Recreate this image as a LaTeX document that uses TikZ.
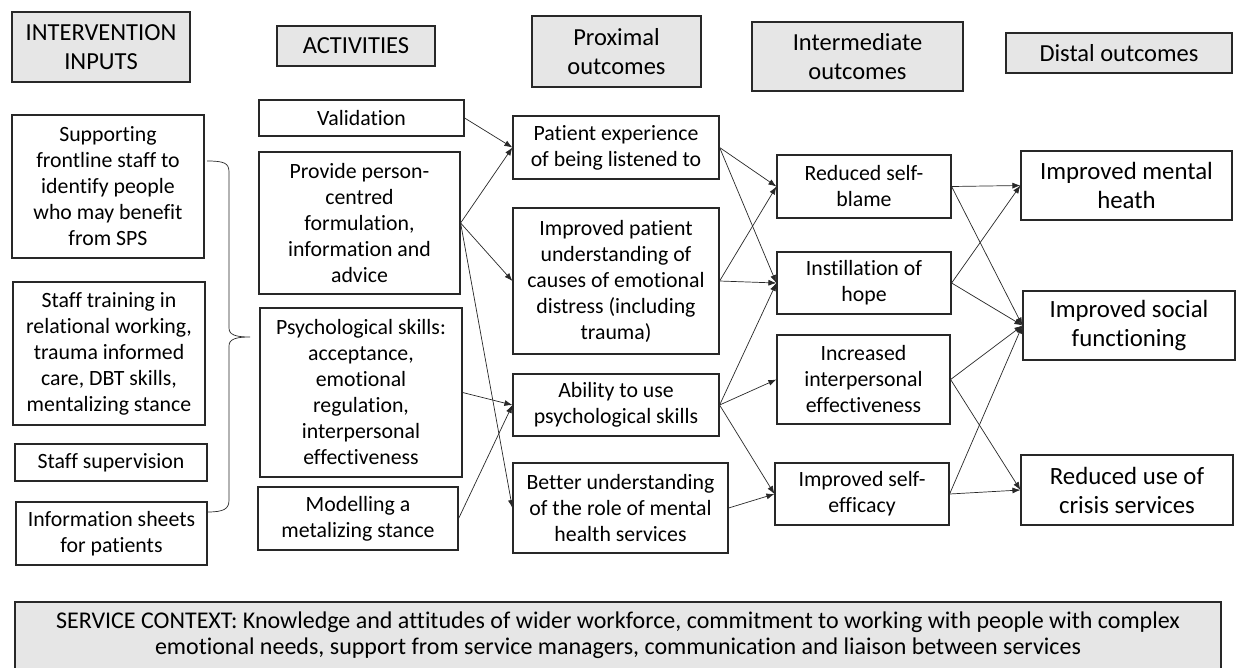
\documentclass[tikz,border=0pt]{standalone}
\usepackage{fontspec}
\setmainfont{Carlito}[Ligatures=NoCommon]
\usetikzlibrary{arrows.meta}
\definecolor{hdrgray}{RGB}{230,230,230}
\definecolor{edgegray}{RGB}{40,40,40}
\tikzset{
  box/.style={draw=edgegray, line width=1.2pt, fill=white, inner sep=0pt, align=center,
    font=\fontsize{21.8}{26}\selectfont},
  bigbox/.style={box, font=\fontsize{24.8}{29}\selectfont},
  hdrbox/.style={box, fill=hdrgray, font=\fontsize{24.5}{29}\selectfont},
  arr/.style={draw=edgegray, line width=0.7pt, -{Latex[length=8pt,width=6pt]}},
  brace/.style={draw=edgegray, line width=0.7pt}
}
\begin{document}
\begin{tikzpicture}[x=1pt,y=-1pt]
\useasboundingbox[fill=white] (0,0) rectangle (1236,667);
% headers
\node[hdrbox, minimum width=178, minimum height=70] (hin) at (101,47) {INTERVENTION\\INPUTS};
\node[hdrbox, minimum width=158, minimum height=40] (hact) at (356,46) {ACTIVITIES};
\node[hdrbox, minimum width=169, minimum height=71] (hprox) at (616.5,51.5) {Proximal\\outcomes};
\node[hdrbox, minimum width=211, minimum height=69] (hint) at (857.5,56.5) {Intermediate\\outcomes};
\node[hdrbox, minimum width=226, minimum height=40] (hdist) at (1119,53) {Distal outcomes};
% inputs
\node[box, minimum width=192, minimum height=143] (in1) at (108,186.5) {Supporting\\frontline staff to\\identify people\\who may benefit\\from SPS};
\node[box, minimum width=192, minimum height=143] (in2) at (109,353.5) {Staff training in\\relational working,\\trauma informed\\care, DBT skills,\\mentalizing stance};
\node[box, minimum width=192, minimum height=37] (in3) at (111,462.5) {Staff supervision};
\node[box, minimum width=191, minimum height=63] (in4) at (111.5,533.5) {Information sheets\\for patients};
% activities
\node[box, minimum width=205, minimum height=36] (a1) at (361.5,118) {Validation};
\node[box, minimum width=201, minimum height=142] (a2) at (359.5,223) {Provide person-\\centred\\formulation,\\information and\\advice};
\node[box, minimum width=202, minimum height=169] (a3) at (361,392.5) {Psychological skills:\\acceptance,\\emotional\\regulation,\\interpersonal\\effectiveness};
\node[box, minimum width=200, minimum height=63] (a4) at (358,518.5) {Modelling a\\metalizing stance};
% proximal
\node[box, minimum width=206, minimum height=63] (p1) at (616,147.5) {Patient experience\\of being listened to};
\node[box, minimum width=206, minimum height=146] (p2) at (616,281) {Improved patient\\understanding of\\causes of emotional\\distress (including\\trauma)};
\node[box, minimum width=206, minimum height=62] (p3) at (616,405) {Ability to use\\psychological skills};
\node[box, minimum width=215, minimum height=90] (p4) at (620.5,508) {Better understanding\\of the role of mental\\health services};
% intermediate
\node[box, minimum width=174, minimum height=63] (m1) at (864,186.5) {Reduced self-\\blame};
\node[box, minimum width=174, minimum height=62] (m2) at (864,283) {Instillation of\\hope};
\node[box, minimum width=173, minimum height=89] (m3) at (863.5,379.5) {Increased\\interpersonal\\effectiveness};
\node[box, minimum width=174, minimum height=62] (m4) at (862,494) {Improved self-\\efficacy};
% distal
\node[bigbox, minimum width=211, minimum height=69] (d1) at (1126.5,185.5) {Improved mental\\heath};
\node[bigbox, minimum width=212, minimum height=69] (d2) at (1129,325.5) {Improved social\\functioning};
\node[bigbox, minimum width=212, minimum height=70] (d3) at (1127,490) {Reduced use of\\crisis services};
% service context
\node[hdrbox, minimum width=1206, minimum height=74] (ctx) at (618,639) {};
\node[font=\fontsize{24}{26}\selectfont, align=center, inner sep=0pt] (ctxt) at (618,635) {SERVICE CONTEXT: Knowledge and attitudes of wider workforce, commitment to working with people with complex\\emotional needs, support from service managers, communication and liaison between services};
% brace from inputs to activities
\coordinate (bt) at (207,161);
\coordinate (bb) at (207,512);
\coordinate (bm) at (250,337);
\draw[brace] (bt) .. controls (224,161) and (229,163) .. (229,172)
  -- (229,328) .. controls (229,335) and (236,337) .. (bm)
  .. controls (236,337) and (229,339) .. (229,346)
  -- (229,500) .. controls (229,509) and (224,512) .. (bb);
% activity -> proximal
\draw[arr] (a1.east) -- (p1.west);
\draw[arr] (a2.east) -- (p1.west);
\draw[arr] (a2.east) -- (p2.west);
\draw[arr] (a2.east) -- (p4.west);
\draw[arr] (a3.east) -- (p3.west);
\draw[arr] (a4.east) -- (p3.west);
% proximal -> intermediate
\draw[arr] (p1.east) -- (m1.west);
\draw[arr] (p1.east) -- (m2.west);
\draw[arr] (p2.east) -- (m1.west);
\draw[arr] (p2.east) -- (m2.west);
\draw[arr] (p3.east) -- (m2.west);
\draw[arr] (p3.east) -- (m3.west);
\draw[arr] (p3.east) -- (m4.west);
\draw[arr] (p4.east) -- (m4.west);
% intermediate -> distal
\draw[arr] (m1.east) -- (d1.west);
\draw[arr] (m1.east) -- (d2.west);
\draw[arr] (m2.east) -- (d1.west);
\draw[arr] (m2.east) -- (d2.west);
\draw[arr] (m3.east) -- (d2.west);
\draw[arr] (m3.east) -- (d3.west);
\draw[arr] (m4.east) -- (d2.west);
\draw[arr] (m4.east) -- (d3.west);
\end{tikzpicture}
\end{document}
